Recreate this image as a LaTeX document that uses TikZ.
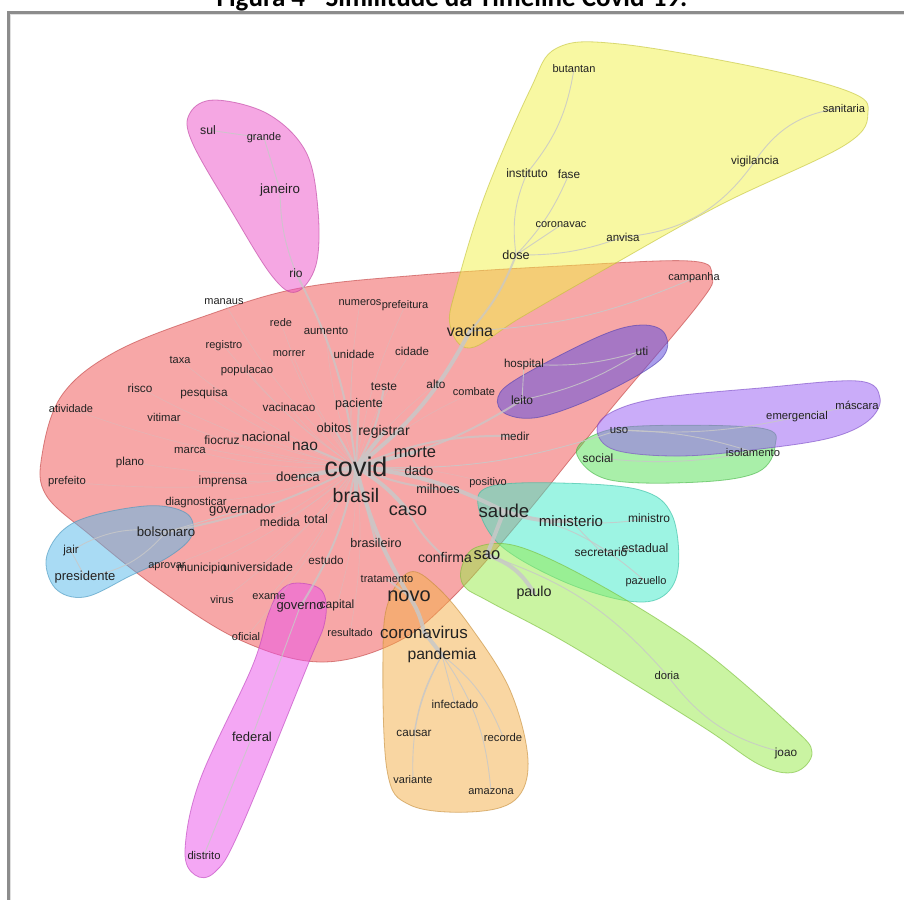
\documentclass[tikz,border=0pt]{standalone}
\usepackage{fontspec}
\setmainfont{Liberation Sans}
\newfontfamily\titlefont{Carlito}
\pgfdeclarelayer{paper}
\pgfdeclarelayer{edges}
\pgfdeclarelayer{hulls}
\pgfsetlayers{paper,hulls,edges,main}
\definecolor{txt}{HTML}{222222}
\definecolor{edgec}{RGB}{200,200,200}
\definecolor{cred}{RGB}{240,80,80}
\definecolor{cyel}{RGB}{243,243,70}
\definecolor{cpinkt}{RGB}{236,80,200}
\definecolor{cpurp}{RGB}{100,80,220}
\definecolor{clav}{RGB}{150,90,245}
\definecolor{cgrs}{RGB}{85,225,85}
\definecolor{ccyan}{RGB}{60,235,200}
\definecolor{clgr}{RGB}{150,235,70}
\definecolor{corg}{RGB}{245,175,70}
\definecolor{cmagb}{RGB}{235,80,235}
\definecolor{cblue}{RGB}{85,185,235}
\definecolor{framec}{RGB}{140,140,140}
\tikzset{
  w/.style={font=\fontsize{#1}{#1}\selectfont, inner sep=0pt, text=txt},
  w/.default=11,
  hull/.style={fill=#1, fill opacity=0.5, draw=#1!80!black, draw opacity=0.6, line width=0.8pt},
  ethick/.style={draw=edgec, line width=4pt, draw opacity=0.85, line cap=round},
  emed/.style={draw=edgec, line width=2pt, draw opacity=0.75, line cap=round},
  ethin/.style={draw=edgec, line width=0.9pt, draw opacity=0.85, line cap=round},
  efaint/.style={draw=edgec, line width=0.7pt, draw opacity=0.35, line cap=round},
}
\begin{document}
\begin{tikzpicture}[x=1pt,y=-1pt]
\useasboundingbox (0,0) rectangle (904,900);
\begin{pgfonlayer}{paper}
\fill[white] (0,0) rectangle (904,900);
\end{pgfonlayer}
% frame and title
\node[font=\titlefont\bfseries\fontsize{27}{27}\selectfont, anchor=base, text=black] (title) at (452,6) {Figura 4 - Similitude da Timeline Covid-19.};
\draw[framec, line width=2.5pt] (904,12.5) -- (8.5,12.5) -- (8.5,900);
\draw[gray!25, line width=1pt] (904,14.8) -- (10.8,14.8) -- (10.8,900);

% ---- words ----
% red cluster
\node[w] (manaus) at (224,302) {manaus};
\node[w] (numeros) at (360,303) {numeros};
\node[w] (prefeitura) at (405,306) {prefeitura};
\node[w] (rede) at (281,323) {rede};
\node[w=11.4] (aumento) at (326,331) {aumento};
\node[w] (registro) at (224,346) {registro};
\node[w] (taxa) at (180,360) {taxa};
\node[w] (morrer) at (289,354) {morrer};
\node[w=11.5] (unidade) at (354,354) {unidade};
\node[w=11.5] (cidade) at (412,351) {cidade};
\node[w=11.3] (populacao) at (247,371) {populacao};
\node[w=11.8] (risco) at (140,388) {risco};
\node[w=11.8] (pesquisa) at (204,393) {pesquisa};
\node[w=12] (teste) at (384,387) {teste};
\node[w=11.8] (alto) at (436,384) {alto};
\node[w] (combate) at (474,392) {combate};
\node[w=11.7] (vacinacao) at (289,407) {vacinacao};
\node[w=12.6] (paciente) at (359,404) {paciente};
\node[w] (atividade) at (71,409) {atividade};
\node[w=11.3] (vitimar) at (164,417) {vitimar};
\node[w=13] (obitos) at (334,428) {obitos};
\node[w=14] (registrar) at (384,432) {registrar};
\node[w=12] (fiocruz) at (222,440) {fiocruz};
\node[w=13] (nacional) at (266,437) {nacional};
\node[w=15.5] (nao) at (305,446) {nao};
\node[w=11.4] (marca) at (190,450) {marca};
\node[w=11.6] (medir) at (515,436) {medir};
\node[w=16.5] (morte) at (415,452) {morte};
\node[w=11.6] (plano) at (130,462) {plano};
\node[w=27] (covid) at (356,467) {covid};
\node[w=13] (dado) at (419,471) {dado};
\node[w=13.3] (doenca) at (298,477) {doenca};
\node[w=11.3] (prefeito) at (67,482) {prefeito};
\node[w=11.8] (imprensa) at (223,481) {imprensa};
\node[w] (positivo) at (488,483) {positivo};
\node[w=12.6] (milhoes) at (438,489) {milhoes};
\node[w=19.5] (brasil) at (356,496) {brasil};
\node[w=11.4] (diagnosticar) at (196,503) {diagnosticar};
\node[w=13] (governador) at (242,510) {governador};
\node[w=18] (caso) at (408,511) {caso};
\node[w=12.2] (medida) at (280,522) {medida};
\node[w=12.5] (total) at (316,519) {total};
\node[w=12.6] (brasileiro) at (376,543) {brasileiro};
\node[w=14] (confirma) at (445,557) {confirma};
\node[w] (aprovar) at (167,567) {aprovar};
\node[w=11.8] (municipio) at (202,568) {municipio};
\node[w=12.3] (universidade) at (258,567) {universidade};
\node[w=11.7] (estudo) at (326,560) {estudo};
\node[w] (tratamento) at (387,579) {tratamento};
\node[w=20] (novo) at (409,596) {novo};
\node[w] (virus) at (222,600) {virus};
\node[w] (exame) at (269,597) {exame};
\node[w=12] (capital) at (337,605) {capital};
\node[w=13] (governo) at (300,607) {governo};
\node[w] (oficial) at (246,637) {oficial};
\node[w] (resultado) at (350,633) {resultado};
\node[w=17] (coronavirus) at (424,632) {coronavirus};
\node[w=15.7] (pandemia) at (442,655) {pandemia};
% orange
\node[w=11.5] (infectado) at (455,704) {infectado};
\node[w=11.7] (causar) at (414,733) {causar};
\node[w=11.3] (recorde) at (503,737) {recorde};
\node[w] (variante) at (413,780) {variante};
\node[w] (amazona) at (491,792) {amazona};
% yellow
\node[w] (butantan) at (574,69) {butantan};
\node[w=11.2] (sanitaria) at (844,108) {sanitaria};
\node[w=11.6] (vigilancia) at (755,161) {vigilancia};
\node[w=12] (instituto) at (527,173) {instituto};
\node[w=11.8] (fase) at (569,174) {fase};
\node[w] (coronavac) at (561,225) {coronavac};
\node[w=11.5] (anvisa) at (623,237) {anvisa};
\node[w=12.6] (dose) at (516,255) {dose};
\node[w] (campanha) at (694,278) {campanha};
\node[w=16] (vacina) at (470,331) {vacina};
% pink top
\node[w=12.3] (sul) at (208,130) {sul};
\node[w] (grande) at (264,138) {grande};
\node[w=13.3] (janeiro) at (280,190) {janeiro};
\node[w=12] (rio) at (296,273) {rio};
% purple
\node[w=11.6] (hospital) at (524,364) {hospital};
\node[w=12] (uti) at (642,351) {uti};
\node[w=12] (leito) at (522,400) {leito};
% lavender / green
\node[w=11.4] (uso) at (619,430) {uso};
\node[w=11.3] (emergencial) at (797,417) {emergencial};
\node[w=11.3] (mascara) at (857,405) {máscara};
\node[w=12] (social) at (598,458) {social};
\node[w=11.2] (isolamento) at (753,452) {isolamento};
% cyan
\node[w=18.6] (saude) at (504,511) {saude};
\node[w=15] (ministerio) at (571,521) {ministerio};
\node[w=12] (ministro) at (649,518) {ministro};
\node[w=12] (secretario) at (601,552) {secretario};
\node[w=12.4] (estadual) at (645,548) {estadual};
\node[w] (pazuello) at (646,582) {pazuello};
% light green
\node[w=16.5] (sao) at (487,555) {sao};
\node[w=14.3] (paulo) at (534,593) {paulo};
\node[w=11.2] (doria) at (667,675) {doria};
\node[w=11.8] (joao) at (786,753) {joao};
% magenta bottom
\node[w=13] (federal) at (252,737) {federal};
\node[w=11.2] (distrito) at (204,855) {distrito};
% blue
\node[w=13.3] (bolsonaro) at (166,532) {bolsonaro};
\node[w=11.5] (jair) at (71,551) {jair};
\node[w=13] (presidente) at (85,577) {presidente};

% ---- hulls ----
\begin{pgfonlayer}{hulls}
\path[hull=cred] plot[smooth cycle, tension=0.6] coordinates {(42,455) (62,395) (115,352) (205,316) (300,288) (420,275) (560,266) (690,261) (712,276) (698,305) (610,410) (525,515) (452,598) (395,643) (320,662) (240,640) (160,590) (90,535) (46,495)};
\path[hull=cyel] plot[smooth cycle, tension=0.6] coordinates {(557,48) (620,44) (760,68) (850,92) (868,112) (845,145) (720,205) (600,272) (520,318) (470,348) (450,325) (457,285) (485,195) (530,90)};
\path[hull=cpinkt] plot[smooth cycle, tension=0.6] coordinates {(190,113) (215,100) (268,114) (306,152) (318,210) (316,265) (296,292) (272,276) (232,212) (192,142)};
\path[hull=cpurp, fill opacity=0.55] plot[smooth cycle, tension=0.6] coordinates {(498,397) (520,377) (600,336) (642,325) (665,334) (660,360) (600,395) (540,417) (506,414)};
\path[hull=cgrs] plot[smooth cycle, tension=0.6] coordinates {(577,455) (592,436) (640,426) (760,428) (775,446) (758,472) (700,482) (610,480)};
\path[hull=clav] plot[smooth cycle, tension=0.6] coordinates {(597,430) (612,412) (660,398) (760,388) (858,381) (880,398) (868,421) (830,438) (760,449) (680,456) (615,450)};
\path[hull=ccyan] plot[smooth cycle, tension=0.6] coordinates {(478,505) (492,486) (560,483) (640,490) (672,515) (678,570) (660,598) (622,600) (560,580) (500,545)};
\path[hull=clgr] plot[smooth cycle, tension=0.6] coordinates {(462,566) (477,547) (520,547) (600,585) (700,648) (790,725) (812,752) (795,772) (760,765) (700,725) (570,645) (490,602) (464,586)};
\path[hull=corg] plot[smooth cycle, tension=0.6] coordinates {(410,572) (436,586) (470,626) (510,690) (528,760) (515,800) (470,812) (410,805) (387,770) (383,650) (389,600)};
\path[hull=cmagb] plot[smooth cycle, tension=0.6] coordinates {(297,583) (322,591) (325,621) (307,667) (240,830) (215,872) (195,875) (185,850) (200,780) (252,667) (268,615) (280,591)};
\path[hull=cblue] plot[smooth cycle, tension=0.6] coordinates {(47,555) (75,522) (145,506) (186,513) (192,535) (170,556) (130,576) (85,597) (55,588)};
\end{pgfonlayer}

% ---- edges ----
\begin{pgfonlayer}{edges}
% faint radial edges
\foreach \n in {manaus,numeros,prefeitura,rede,aumento,registro,taxa,morrer,unidade,cidade,populacao,risco,pesquisa,alto,combate,vacinacao,atividade,vitimar,fiocruz,nacional,marca,plano,prefeito,imprensa,diagnosticar,medida,total,aprovar,municipio,universidade,estudo,virus,exame,capital,resultado,oficial,positivo}
  \draw[efaint] (covid.center) to[bend left=8] (\n.center);
% thick
\draw[ethick] (covid.center) to[bend right=12] (vacina.center);
\draw[ethick] (covid.center) to[bend left=10] (saude.center);
\draw[ethick] (covid.center) to[bend right=8] (novo.center);
\draw[ethick] (covid.center) -- (brasil.center);
\draw[ethick] (covid.center) to[bend left=10] (caso.center);
\draw[ethick] (covid.center) -- (morte.center);
\draw[ethick] (covid.center) -- (doenca.center);
\draw[ethick] (covid.center) -- (registrar.center);
\draw[ethick] (saude.center) to[bend right=10] (ministerio.center);
\draw[ethick] (saude.center) -- (sao.center);
\draw[ethick] (sao.center) to[bend left=20] (paulo.center);
\draw[ethick] (novo.center) to[bend left=10] (coronavirus.center);
\draw[ethick] (coronavirus.center) -- (pandemia.center);
% medium
\draw[emed] (vacina.center) to[bend right=10] (dose.center);
\draw[emed] (covid.center) -- (nao.center);
\draw[emed] (covid.center) -- (obitos.center);
\draw[emed] (covid.center) -- (paciente.center);
\draw[emed] (covid.center) -- (dado.center);
\draw[emed] (covid.center) to[bend right=8] (milhoes.center);
\draw[emed] (covid.center) to[bend left=8] (bolsonaro.center);
\draw[emed] (covid.center) to[bend left=10] (governo.center);
\draw[emed] (covid.center) to[bend right=10] (rio.center);
\draw[emed] (covid.center) -- (brasileiro.center);
\draw[emed] (caso.center) to[bend right=10] (confirma.center);
\draw[emed] (covid.center) to[bend right=10] (teste.center);
\draw[emed] (covid.center) to[bend left=12] (medir.center);
\draw[emed] (covid.center) to[bend right=10] (leito.center);
\draw[emed] (novo.center) -- (tratamento.center);
% thin cluster edges
\draw[ethin] (dose.center) to[bend left=15] (instituto.center);
\draw[ethin] (instituto.center) to[bend right=15] (butantan.center);
\draw[ethin] (dose.center) to[bend right=10] (fase.center);
\draw[ethin] (dose.center) -- (coronavac.center);
\draw[ethin] (dose.center) to[bend right=10] (anvisa.center);
\draw[ethin] (anvisa.center) to[bend right=25] (vigilancia.center);
\draw[ethin] (vigilancia.center) to[bend left=25] (sanitaria.center);
\draw[ethin] (vacina.center) to[bend right=10] (campanha.center);
\draw[ethin] (rio.center) to[bend left=10] (janeiro.center);
\draw[ethin] (janeiro.center) -- (grande.center);
\draw[ethin] (grande.center) -- (sul.center);
\draw[ethin] (uti.center) to[bend left=10] (hospital.center);
\draw[ethin] (uti.center) to[bend left=10] (leito.center);
\draw[ethin] (hospital.center) -- (leito.center);
\draw[ethin] (uso.center) to[bend right=8] (emergencial.center);
\draw[ethin] (emergencial.center) -- (mascara.center);
\draw[ethin] (uso.center) to[bend left=8] (isolamento.center);
\draw[ethin] (social.center) to[bend right=8] (isolamento.center);
\draw[ethin] (covid.center) to[bend right=10] (uso.center);
\draw[ethin] (ministerio.center) to[bend right=8] (ministro.center);
\draw[ethin] (ministerio.center) -- (secretario.center);
\draw[ethin] (secretario.center) -- (estadual.center);
\draw[ethin] (saude.center) to[bend left=15] (pazuello.center);
\draw[ethin] (sao.center) to[bend left=15] (doria.center);
\draw[ethin] (doria.center) to[bend right=20] (joao.center);
\draw[ethin] (pandemia.center) -- (infectado.center);
\draw[ethin] (pandemia.center) to[bend right=10] (causar.center);
\draw[ethin] (pandemia.center) to[bend left=15] (recorde.center);
\draw[ethin] (pandemia.center) to[bend right=15] (variante.center);
\draw[ethin] (pandemia.center) to[bend left=15] (amazona.center);
\draw[ethin] (governo.center) -- (federal.center);
\draw[ethin] (federal.center) -- (distrito.center);
\draw[ethin] (bolsonaro.center) to[bend right=20] (jair.center);
\draw[ethin] (jair.center) -- (presidente.center);
\draw[ethin] (bolsonaro.center) to[bend left=20] (presidente.center);
\draw[ethin] (bolsonaro.center) -- (governador.center);
\end{pgfonlayer}
\end{tikzpicture}
\end{document}
